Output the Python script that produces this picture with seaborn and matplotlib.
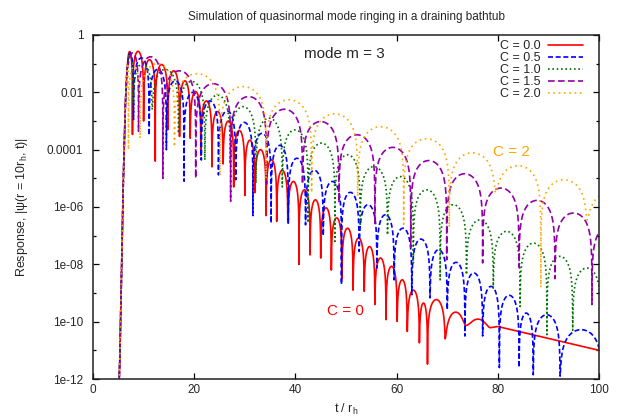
import numpy as np
import pandas as pd
import seaborn as sns
import matplotlib
matplotlib.use('Agg')
import matplotlib.pyplot as plt
from matplotlib.ticker import FixedLocator, NullFormatter, NullLocator

# values (times in t/r_h, responses as log10)
# shared initial rise of the pulse
rise_t = [5.0, 5.3, 6.0, 6.4, 6.7]
rise_v = [-13.0, -11.3, -5.0, -2.4, -1.25]

# C = 0.0 : node times, depth at each node, peak of each lobe
red_nodes = [6.7, 7.8, 10.0, 12.3, 14.8, 17.1, 19.2, 21.3, 23.5, 25.7, 27.8, 30.0, 32.0,
             34.2, 36.3, 38.5, 40.7, 42.9, 45.0, 47.1, 49.2, 51.4, 53.6, 55.7, 57.9, 60.1,
             62.1, 64.5, 66.1, 69.6, 73.7, 78.5]
red_dips = [-1.25, -3.47, -3.0, -4.4, -3.3, -3.54, -3.6, -4.2, -4.6, -4.5, -5.3, -5.6, -5.5,
            -6.3, -6.5, -6.55, -8.0, -7.67, -7.78, -8.2, -8.5, -8.9, -8.94, -9.4, -9.93, -9.99,
            -10.34, -10.74, -11.48, -10.6, -10.13, -10.21]
red_peaks = [-0.58, -0.57, -0.86, -1.03, -1.25, -1.6, -1.97, -2.3, -2.67, -3.0, -3.33, -3.67,
             -4.0, -4.35, -4.72, -5.11, -5.4, -5.75, -6.03, -6.38, -6.74, -7.08, -7.38, -7.78,
             -8.07, -8.54, -8.9, -9.35, -9.23, -9.68, -9.99]
# late-time power-law tail of C = 0.0
red_tail_t = [80.0, 100.0]
red_tail_v = [-10.17, -11.0]

# C = 0.5
blue_nodes = [6.7, 8.0, 11.1, 14.5, 18.0, 21.4, 24.8, 28.2, 31.6, 35.2, 38.6, 42.0, 45.5,
              49.1, 52.6, 56.1, 59.5, 63.0, 66.6, 70.0, 73.5, 77.0, 80.3, 84.2, 87.0, 92.3, 100.6]
blue_dips = [-1.25, -2.95, -3.5, -4.0, -5.1, -4.36, -4.88, -5.05, -6.3, -6.56, -6.56, -6.62,
             -7.0, -8.7, -7.55, -8.13, -8.54, -9.06, -9.17, -9.58, -10.5, -10.5, -11.6, -11.6,
             -11.85, -11.9, -12.0]
blue_peaks = [-0.63, -0.8, -1.2, -1.6, -2.0, -2.3, -2.65, -3.05, -3.43, -3.85, -4.3, -4.72,
              -5.11, -5.49, -5.92, -6.27, -6.74, -7.12, -7.49, -7.93, -8.3, -8.77, -9.08,
              -9.7, -9.76, -10.28]

# C = 1.0
green_nodes = [6.7, 7.9, 11.7, 16.9, 22.1, 27.1, 32.2, 37.4, 42.5, 47.8, 52.8, 58.2, 63.3,
               68.6, 73.8, 79.1, 84.4, 89.7, 94.8, 100.4]
green_dips = [-1.25, -2.37, -2.6, -3.43, -4.36, -4.5, -5.17, -5.3, -6.55, -7.2, -6.6, -6.97,
              -7.95, -8.54, -8.36, -8.83, -9.47, -10.45, -10.3, -10.0]
green_peaks = [-0.65, -1.0, -1.2, -1.62, -2.1, -2.5, -2.9, -3.31, -3.77, -4.18, -4.59, -4.94,
               -5.4, -5.92, -6.45, -6.85, -7.26, -7.72, -8.13]

# C = 1.5
purple_nodes = [6.7, 9.0, 13.8, 20.3, 27.2, 34.3, 41.4, 48.6, 55.7, 62.8, 69.9, 77.0, 84.2,
                91.3, 98.6, 105.8]
purple_dips = [-1.25, -3.36, -5.0, -5.0, -5.8, -5.2, -5.2, -5.85, -6.6, -7.4, -7.84, -7.95,
               -8.1, -8.5, -9.4, -9.0]
purple_peaks = [-0.63, -0.76, -1.25, -1.7, -2.15, -2.59, -3.02, -3.48, -3.92, -4.38, -4.84,
                -5.34, -5.77, -6.21, -6.65]

# C = 2.0
orange_nodes = [6.7, 7.0, 9.3, 16.1, 25.1, 34.2, 43.2, 52.3, 61.4, 70.4, 79.5, 88.5, 97.6, 106.6]
orange_dips = [-1.25, -4.0, -3.6, -3.9, -4.9, -5.0, -5.5, -5.63, -6.6, -6.7, -5.5, -8.8, -6.45, -7.0]
orange_peaks = [-1.0, -1.1, -1.0, -1.35, -1.8, -2.26, -2.75, -3.2, -3.62, -4.11, -4.56, -5.05, -5.5]

labels = ['C = 0.0', 'C = 0.5', 'C = 1.0', 'C = 1.5', 'C = 2.0']
colors = ['#ff0000', '#0000ff', '#007000', '#9400a8', '#ffa500']
styles = ['-', (0, (3, 1.6)), (0, (1, 1.6)), (0, (4, 2)), (0, (1, 2.2))]


def ringing(nodes, dips, peaks, tail_t=(), tail_v=()):
    # rise, then one arch per lobe between the read node times
    ts = [np.array(rise_t[:-1])]
    vs = [10.0 ** np.array(rise_v[:-1])]
    for i in range(len(peaks)):
        ta, tb = nodes[i], nodes[i + 1]
        t = np.arange(ta, tb, 0.01)
        s = (t - ta) / (tb - ta)
        floor = 10 ** dips[i] * (1 - s) + 10 ** dips[i + 1] * s
        v = np.sqrt((10 ** peaks[i] * np.sin(np.pi * s)) ** 2 + floor ** 2)
        ts.append(t)
        vs.append(v)
    ts.append(np.array([nodes[-1]] + list(tail_t)))
    vs.append(10.0 ** np.array([dips[-1]] + list(tail_v)))
    return np.concatenate(ts), np.concatenate(vs)


curves = [
    ringing(red_nodes, red_dips, red_peaks, red_tail_t, red_tail_v),
    ringing(blue_nodes, blue_dips, blue_peaks),
    ringing(green_nodes, green_dips, green_peaks),
    ringing(purple_nodes, purple_dips, purple_peaks),
    ringing(orange_nodes, orange_dips, orange_peaks),
]

sns.set_style('ticks')
plt.rcParams['font.family'] = ['Liberation Sans', 'DejaVu Sans']
plt.rcParams['mathtext.fontset'] = 'custom'
plt.rcParams['mathtext.rm'] = 'Liberation Sans'
plt.rcParams['mathtext.it'] = 'Liberation Sans:italic'

fig, ax = plt.subplots(figsize=(6.18, 4.18), dpi=100)
fig.subplots_adjust(left=0.1505, right=0.9693, bottom=0.0933, top=0.9163)

for (t, v), lab, col, ls in zip(curves, labels, colors, styles):
    df = pd.DataFrame({'t': t, 'response': v})
    sns.lineplot(data=df, x='t', y='response', ax=ax, color=col, linestyle=ls,
                 lw=1.2, label=lab, estimator=None, sort=False)

ax.set_yscale('log')
ax.set_xlim(0, 100)
ax.set_ylim(1e-12, 1)
ax.set_xticks([0, 20, 40, 60, 80, 100])
ax.xaxis.set_minor_locator(NullLocator())
ax.yaxis.set_major_locator(FixedLocator(10.0 ** np.arange(-12, 1, 2)))
ax.set_yticklabels(['1e-12', '1e-10', '1e-08', '1e-06', '0.0001', '0.01', '1'])
ax.yaxis.set_minor_locator(FixedLocator(10.0 ** np.arange(-11, 0, 2)))
ax.yaxis.set_minor_formatter(NullFormatter())
ax.tick_params(which='both', direction='in', top=True, right=True, labelsize=8.5,
               width=0.9, color='black')
ax.tick_params(axis='y', which='major', pad=7)
ax.tick_params(which='major', length=4.5)
ax.tick_params(which='minor', length=2.5)
for sp in ax.spines.values():
    sp.set_linewidth(1.1)
    sp.set_color('#202020')

ax.set_xlabel('t / r$_\\mathrm{h}$', fontsize=9)
ax.set_ylabel('Response, |\u03c8(r = 10r$_\\mathrm{h}$, t)|', fontsize=9, labelpad=12)
ax.set_title('Simulation of quasinormal mode ringing in a draining bathtub', fontsize=8.5, pad=11)

ax.text(49.6, 10 ** -0.66, 'mode m = 3', ha='center', va='center', fontsize=11)
ax.text(82.7, 10 ** -4.07, 'C = 2', ha='center', va='center', fontsize=11, color='#ffa500')
ax.text(49.8, 10 ** -9.62, 'C = 0', ha='center', va='center', fontsize=11, color='#ff0000')

ax.legend(loc='upper right', bbox_to_anchor=(0.968, 0.984), markerfirst=False, frameon=False,
          fontsize=9, handlelength=2.8, handletextpad=0.6, labelspacing=0.0,
          borderpad=0, borderaxespad=0)

fig.savefig('out.png', dpi=100)
